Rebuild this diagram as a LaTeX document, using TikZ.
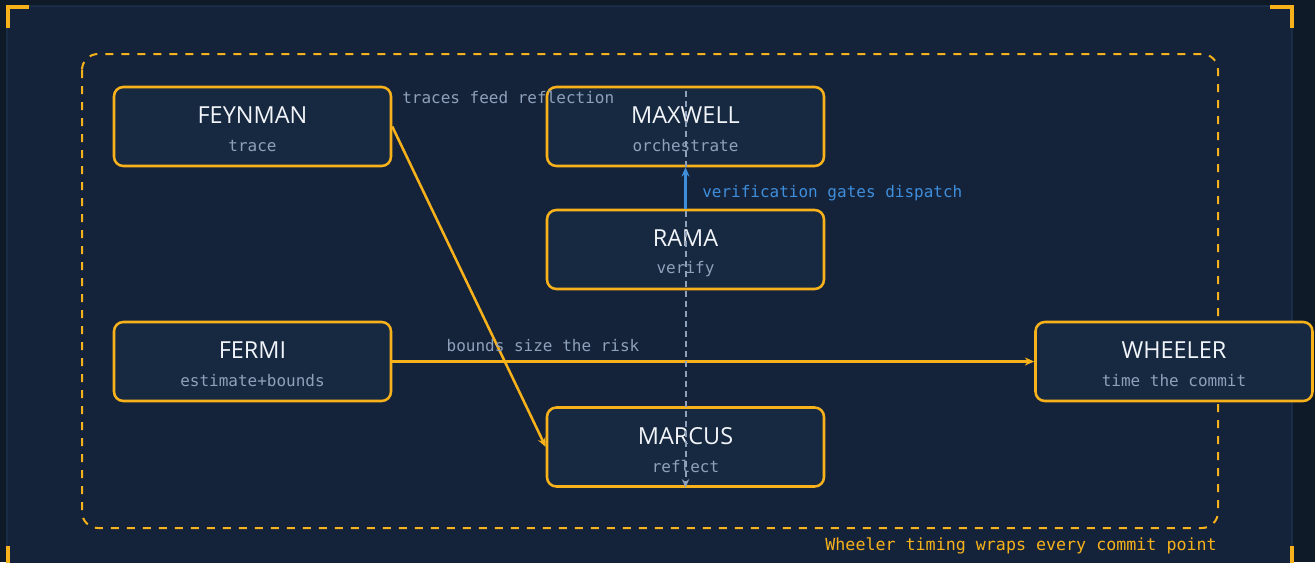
\documentclass[tikz,border=0pt]{standalone}
\usepackage{fontspec}
\setmainfont{Open Sans}
\newfontfamily\monofont{DejaVu Sans Mono}
\usetikzlibrary{arrows.meta}

\definecolor{bgouter}{HTML}{0F1A29}
\definecolor{panelfill}{HTML}{14233A}
\definecolor{panelline}{HTML}{1F3552}
\definecolor{cardfill}{HTML}{172941}
\definecolor{amber}{HTML}{F7B21B}
\definecolor{mutedtext}{HTML}{8FA0BA}
\definecolor{linkblue}{HTML}{3F8EDC}
\definecolor{titletext}{HTML}{F1F4F8}

\tikzset{
  card/.style={draw=amber, line width=1.9pt, fill=cardfill, rounded corners=7pt,
    minimum width=207.75pt, minimum height=59.25pt, inner sep=0pt},
  cardtitle/.style={text=titletext, font=\fontsize{17.6}{19}\selectfont, inner sep=0pt},
  cardsub/.style={text=mutedtext, font=\monofont\fontsize{12}{14}\selectfont, inner sep=0pt},
  edgelabel/.style={text=mutedtext, font=\monofont\fontsize{12}{14}\selectfont, inner sep=0pt},
  yedge/.style={draw=amber, line width=1.9pt, -{Stealth[length=7pt,width=6pt]}},
  gdash/.style={draw=mutedtext, line width=1.5pt, dash pattern=on 4.5pt off 3pt,
    -{Stealth[length=6.5pt,width=5.5pt]}},
  bedge/.style={draw=linkblue, line width=1.9pt, -{Stealth[length=7pt,width=6pt]}},
  bracket/.style={draw=amber, line width=2.3pt},
}

% an agent card: rounded box, title and role line
\newcommand\agentcard[5]{%
  \node[card] (#1) at (#2,#3) {};
  \node[cardtitle] (#1-t) at ([yshift=8.25pt]#1.center) {#4};
  \node[cardsub] (#1-s) at ([yshift=-14.5pt]#1.center) {#5};
}

\begin{document}
\begin{tikzpicture}[x=0.75pt,y=-0.75pt]
\useasboundingbox (0,0) rectangle (1315,562);
\clip (0,0) rectangle (1315,562);
\fill[bgouter] (0,0) rectangle (1315,562);

% panel
\draw[panelline, fill=panelfill, line width=1pt, rounded corners=3pt] (7,6) rectangle (1292,600);

% corner brackets
\draw[bracket] (8,28) -- (8,7) -- (29,7);
\draw[bracket] (1270,7) -- (1292,7) -- (1292,28);
\draw[bracket] (8,546) -- (8,570);
\draw[bracket] (1292,546) -- (1292,570);

% dashed group frame
\draw[amber, line width=1.5pt, dash pattern=on 6pt off 6pt, rounded corners=12pt]
  (82,54) rectangle (1218,528);

% cards
\agentcard{feynman}{252.5}{126.5}{FEYNMAN}{trace}
\agentcard{maxwell}{685.5}{126.5}{MAXWELL}{orchestrate}
\agentcard{rama}{685.5}{249.5}{RAMA}{verify}
\agentcard{fermi}{252.5}{361.5}{FERMI}{estimate+bounds}
\agentcard{marcus}{685.5}{447}{MARCUS}{reflect}
\agentcard{wheeler}{1174}{361.5}{WHEELER}{time the commit}

% connectors
\draw[yedge] (feynman.east) -- (marcus.west);
\draw[yedge] (fermi.east) -- (wheeler.west);
\draw[gdash] ([yshift=-4pt]maxwell.north) -- (marcus.south);
\draw[bedge] (rama.north) -- (maxwell.south);

% connector labels
\node[edgelabel, anchor=west] (lbl-trace) at (402,97.5) {traces feed reflection};
\node[edgelabel] (lbl-bounds) at (543,345.5) {bounds size the risk};
\node[edgelabel, anchor=west, text=linkblue] (lbl-verify) at (702,193.5) {verification gates dispatch};

% group caption
\node[edgelabel, anchor=east, text=amber, font=\monofont\fontsize{12.5}{14}\selectfont] (caption) at (1217,545.5) {Wheeler timing wraps every commit point};
\end{tikzpicture}
\end{document}
